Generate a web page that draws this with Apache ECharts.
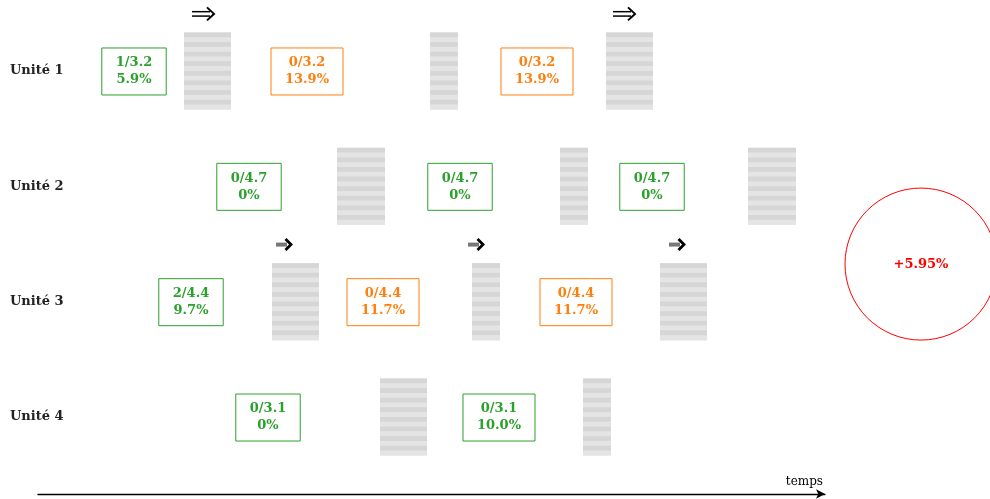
<!DOCTYPE html>
<html><head><meta charset="utf-8">
<script src="https://cdn.jsdelivr.net/npm/echarts@6/dist/echarts.min.js"></script>
<style>html,body{margin:0;padding:0;background:#fff}#c{width:990px;height:499px}</style>
</head><body><div id="c"></div>
<script>
// Units (rows)
const units = ['Unité 1', 'Unité 2', 'Unité 3', 'Unité 4'];
// Boxes: [time, unitIndex(1-based), count label, rate label, kind]
const boxTimes  = [134, 307, 537, 249, 460, 652, 191, 383, 576, 268, 499];
const boxUnits  = [1, 1, 1, 2, 2, 2, 3, 3, 3, 4, 4];
const boxCounts = ['1/3.2', '0/3.2', '0/3.2', '0/4.7', '0/4.7', '0/4.7', '2/4.4', '0/4.4', '0/4.4', '0/3.1', '0/3.1'];
const boxRates  = ['5.9%', '13.9%', '13.9%', '0%', '0%', '0%', '9.7%', '11.7%', '11.7%', '0%', '10.0%'];
const boxKinds  = ['ok', 'warn', 'warn', 'ok', 'ok', 'ok', 'ok', 'warn', 'warn', 'ok', 'ok'];
// Pauses (grey blocks): start, end, unit
const pauseStart = [184, 430, 606, 337, 560, 748, 272, 472, 660, 380, 583];
const pauseEnd   = [231, 458, 653, 385, 588, 796, 319, 500, 707, 427, 611];
const pauseUnit  = [1, 1, 1, 2, 2, 2, 3, 3, 3, 4, 4];
// Arrows: time, unit, style
const arrowTimes = [203, 624, 284, 476, 677];
const arrowUnits = [1, 1, 3, 3, 3];
const arrowKinds = ['double', 'double', 'bold', 'bold', 'bold'];
// Summary
const summaryTime = 921, summaryPos = 2.674, summaryLabel = '+5.95%';

const FONT = 'DejaVu Serif';
const colors = { ok: '#2ca02c', warn: '#ff7f0e' };

const boxData = boxTimes.map((t, i) => [t, boxUnits[i], boxCounts[i], boxRates[i], boxKinds[i]]);
const pauseData = pauseStart.map((s, i) => [s, pauseEnd[i], pauseUnit[i]]);
const arrowData = arrowTimes.map((t, i) => [t, arrowUnits[i], arrowKinds[i]]);

const chart = echarts.init(document.getElementById('c'), null, { renderer: 'canvas' });
chart.setOption({
  animation: false,
  backgroundColor: '#fff',
  grid: [
    { left: 0, right: 0, top: 13.3, bottom: 24.3 },
    { left: 38, right: 165, top: 493, height: 1 }
  ],
  xAxis: [
    { type: 'value', min: 0, max: 990, gridIndex: 0, show: false },
    { type: 'value', min: 0, max: 1, gridIndex: 1, position: 'bottom',
      axisLine: { show: true, symbol: ['none', 'arrow'], symbolSize: [7, 9], lineStyle: { color: '#000', width: 1.3 } },
      axisTick: { show: false }, axisLabel: { show: false }, splitLine: { show: false },
      name: 'temps', nameLocation: 'end', nameGap: 0,
      nameTextStyle: { fontFamily: FONT, fontSize: 12, color: '#000', align: 'right', verticalAlign: 'bottom', padding: [0, 2, 6, 0] } }
  ],
  yAxis: [
    { type: 'category', data: units, inverse: true, gridIndex: 0,
      axisLine: { show: false }, axisTick: { show: false }, splitLine: { show: false },
      axisLabel: { inside: true, margin: 10, align: 'left', fontFamily: FONT, fontWeight: 'bold', fontSize: 13, color: '#222', padding: [4, 0, 0, 0] } },
    { type: 'value', min: 0.5, max: 4.5, inverse: true, gridIndex: 0, show: false },
    { type: 'value', gridIndex: 1, show: false }
  ],
  series: [
    { type: 'custom', xAxisIndex: 0, yAxisIndex: 1, data: pauseData, clip: false,
      renderItem: function (params, api) {
        const p0 = api.coord([api.value(0), api.value(2)]);
        const p1 = api.coord([api.value(1), api.value(2)]);
        const band = api.size([0, 1])[1];
        const h = band * 0.668;
        const top = p0[1] - h / 2;
        const w = p1[0] - p0[0];
        const step = 4.8;
        const children = [{ type: 'rect', shape: { x: p0[0], y: top, width: w, height: h }, style: { fill: '#e4e4e4' } }];
        for (let k = 0; k * step < h; k += 2) {
          const y = top + k * step;
          children.push({ type: 'rect', shape: { x: p0[0], y: y, width: w, height: Math.min(step, top + h - y) }, style: { fill: '#d6d6d6' } });
        }
        return { type: 'group', children: children };
      } },
    { type: 'custom', xAxisIndex: 0, yAxisIndex: 1, data: boxData, clip: false,
      renderItem: function (params, api) {
        const p = api.coord([api.value(0), api.value(1)]);
        const d = boxData[params.dataIndex];
        const c = colors[d[4]];
        return { type: 'text', x: p[0], y: p[1] + 0.5,
          style: { text: d[2] + '\n' + d[3], fill: c, font: 'bold 13px "' + FONT + '"', lineHeight: 17,
            align: 'center', verticalAlign: 'middle', borderColor: c, borderWidth: 1, padding: [8, 14, 5, 14] } };
      } },
    { type: 'custom', xAxisIndex: 0, yAxisIndex: 1, data: arrowData, clip: false,
      renderItem: function (params, api) {
        const band = api.size([0, 1])[1];
        const p = api.coord([api.value(0), api.value(1)]);
        const x = p[0], y = p[1] - band * 0.495;
        const d = arrowData[params.dataIndex];
        if (d[2] === 'double') {
          return { type: 'group', children: [
            { type: 'line', shape: { x1: x - 11, y1: y - 2.2, x2: x + 7, y2: y - 2.2 }, style: { stroke: '#000', lineWidth: 1.5 } },
            { type: 'line', shape: { x1: x - 11, y1: y + 2.2, x2: x + 7, y2: y + 2.2 }, style: { stroke: '#000', lineWidth: 1.5 } },
            { type: 'polyline', shape: { points: [[x + 4, y - 6.5], [x + 11, y], [x + 4, y + 6.5]] }, style: { stroke: '#000', lineWidth: 2, fill: null } }
          ] };
        }
        return { type: 'group', children: [
          { type: 'rect', shape: { x: x - 8, y: y - 2, width: 11, height: 4 }, style: { fill: '#777' } },
          { type: 'polyline', shape: { points: [[x + 1.5, y - 5.5], [x + 7, y], [x + 1.5, y + 5.5]] }, style: { stroke: '#000', lineWidth: 2.8, fill: null } }
        ] };
      } },
    { type: 'custom', xAxisIndex: 0, yAxisIndex: 1, data: [[summaryTime, summaryPos, summaryLabel]], clip: false,
      renderItem: function (params, api) {
        const p = api.coord([api.value(0), api.value(1)]);
        return { type: 'group', children: [
          { type: 'circle', shape: { cx: p[0], cy: p[1], r: 76 }, style: { fill: null, stroke: '#ff0000', lineWidth: 1 } },
          { type: 'text', x: p[0], y: p[1] + 1, style: { text: summaryLabel, fill: '#ff0000', font: 'bold 13px "' + FONT + '"', align: 'center', verticalAlign: 'middle' } }
        ] };
      } }
  ]
});
</script></body></html>
